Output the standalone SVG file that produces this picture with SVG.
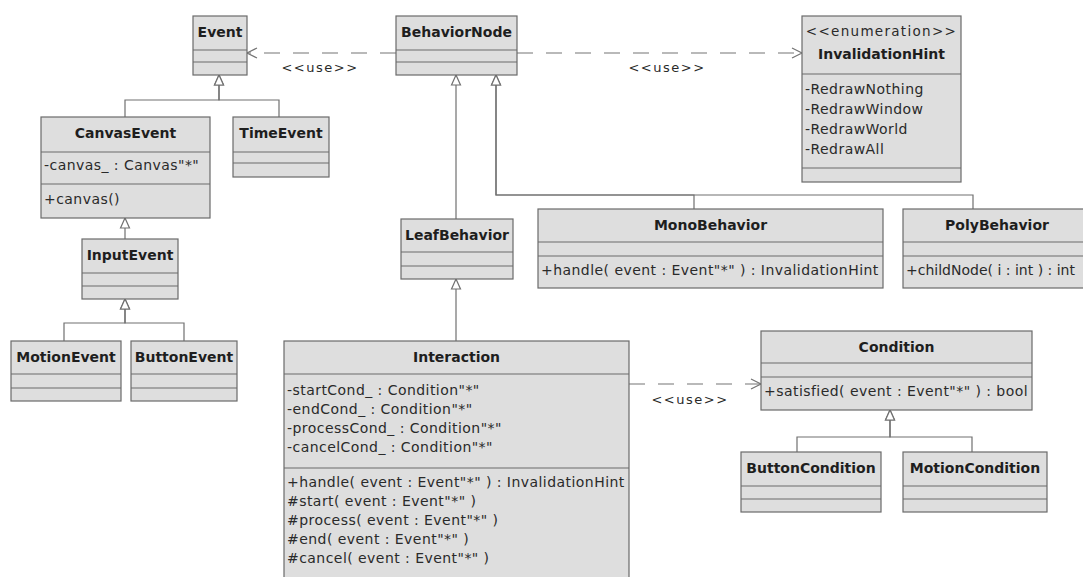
<svg xmlns="http://www.w3.org/2000/svg" width="1083" height="577" viewBox="0 0 1083 577">
  <defs>
    <style>
      .box { fill: #dedede; stroke: #6a6a6a; stroke-width: 1.2; }
      .sep { stroke: #6a6a6a; stroke-width: 1.2; }
      .name { font-family: "DejaVu Sans", "Liberation Sans", sans-serif; font-weight: bold; font-size: 14px; fill: #1e1e1e; text-anchor: middle; }
      .member { font-family: "DejaVu Sans", "Liberation Sans", sans-serif; font-size: 14px; letter-spacing: 0.45px; fill: #2a2a2a; }
      .tight { letter-spacing: 0px; }
      .stereo { font-family: "DejaVu Sans", "Liberation Sans", sans-serif; font-size: 13.5px; letter-spacing: 1.3px; fill: #2a2a2a; text-anchor: middle; }
      .gen { fill: none; stroke: #707070; stroke-width: 1.2; marker-end: url(#hollow); }
      .dep { fill: none; stroke: #747474; stroke-width: 1.2; stroke-dasharray: 16 13; marker-end: url(#open); }
      .label { font-family: "DejaVu Sans", "Liberation Sans", sans-serif; font-size: 13px; letter-spacing: 1.5px; fill: #2a2a2a; text-anchor: middle; }
    </style>
    <!-- hollow triangle for generalization -->
    <marker id="hollow" markerUnits="userSpaceOnUse" markerWidth="12" markerHeight="10" refX="10" refY="4.5" orient="auto" overflow="visible">
      <path d="M0,0 L10,4.5 L0,9 z" fill="#ffffff" stroke="#707070" stroke-width="1.2"/>
    </marker>
    <!-- open arrowhead for dependencies -->
    <marker id="open" markerUnits="userSpaceOnUse" markerWidth="12" markerHeight="12" refX="10" refY="5" orient="auto" overflow="visible">
      <path d="M0,0 L10,5 L0,10" fill="none" stroke="#747474" stroke-width="1.2" stroke-dasharray="none"/>
    </marker>
  </defs>

  <rect width="1083" height="577" fill="#ffffff"/>

  <!-- connectors -->
  <g id="connectors">
    <!-- dependencies -->
    <path class="dep" d="M396,53 L247,53"/>
    <text class="label" x="320" y="72">&lt;&lt;use&gt;&gt;</text>
    <path class="dep" d="M517,53 L802,53"/>
    <text class="label" x="667" y="72">&lt;&lt;use&gt;&gt;</text>
    <path class="dep" d="M629,384 L761,384"/>
    <text class="label" x="690" y="404">&lt;&lt;use&gt;&gt;</text>

    <!-- event hierarchy -->
    <path class="gen" d="M125,117 L125,100 L219,100 L219,75"/>
    <path class="gen" d="M279,117 L279,100 L219,100 L219,75"/>
    <path class="gen" d="M125,239 L125,218"/>
    <path class="gen" d="M64,341 L64,323 L125,323 L125,299"/>
    <path class="gen" d="M184,341 L184,323 L125,323 L125,299"/>

    <!-- behavior hierarchy -->
    <path class="gen" d="M456,219 L456,75"/>
    <path class="gen" d="M694,209 L694,195 L496,195 L496,75"/>
    <path class="gen" d="M973,209 L973,195 L496,195 L496,75"/>
    <path class="gen" d="M456,341 L456,279"/>

    <!-- condition hierarchy -->
    <path class="gen" d="M797,452 L797,437 L890,437 L890,410"/>
    <path class="gen" d="M972,452 L972,437 L890,437 L890,410"/>
  </g>

  <!-- classes -->
  <g id="Event">
    <rect class="box" x="193" y="16" width="54" height="59"/>
    <line class="sep" x1="193" y1="50" x2="247" y2="50"/>
    <line class="sep" x1="193" y1="62" x2="247" y2="62"/>
    <text class="name" x="220" y="37">Event</text>
  </g>

  <g id="BehaviorNode">
    <rect class="box" x="396" y="16" width="121" height="59"/>
    <line class="sep" x1="396" y1="50" x2="517" y2="50"/>
    <line class="sep" x1="396" y1="62" x2="517" y2="62"/>
    <text class="name" x="456.5" y="37">BehaviorNode</text>
  </g>

  <g id="InvalidationHint">
    <rect class="box" x="802" y="16" width="159" height="166"/>
    <line class="sep" x1="802" y1="74" x2="961" y2="74"/>
    <line class="sep" x1="802" y1="168" x2="961" y2="168"/>
    <text class="stereo" x="881.5" y="36">&lt;&lt;enumeration&gt;&gt;</text>
    <text class="name" x="881.5" y="59">InvalidationHint</text>
    <text class="member" x="805" y="94">-RedrawNothing</text>
    <text class="member" x="805" y="114">-RedrawWindow</text>
    <text class="member" x="805" y="134">-RedrawWorld</text>
    <text class="member" x="805" y="154">-RedrawAll</text>
  </g>

  <g id="CanvasEvent">
    <rect class="box" x="41" y="117" width="169" height="101"/>
    <line class="sep" x1="41" y1="152" x2="210" y2="152"/>
    <line class="sep" x1="41" y1="184" x2="210" y2="184"/>
    <text class="name" x="125.5" y="138">CanvasEvent</text>
    <text class="member" x="44" y="170">-canvas_ : Canvas"*"</text>
    <text class="member" x="44" y="204">+canvas()</text>
  </g>

  <g id="TimeEvent">
    <rect class="box" x="233" y="117" width="96" height="60"/>
    <line class="sep" x1="233" y1="152" x2="329" y2="152"/>
    <line class="sep" x1="233" y1="163" x2="329" y2="163"/>
    <text class="name" x="281" y="138">TimeEvent</text>
  </g>

  <g id="InputEvent">
    <rect class="box" x="82" y="239" width="96" height="60"/>
    <line class="sep" x1="82" y1="273" x2="178" y2="273"/>
    <line class="sep" x1="82" y1="286" x2="178" y2="286"/>
    <text class="name" x="130" y="260">InputEvent</text>
  </g>

  <g id="MotionEvent">
    <rect class="box" x="11" y="341" width="110" height="60"/>
    <line class="sep" x1="11" y1="374" x2="121" y2="374"/>
    <line class="sep" x1="11" y1="388" x2="121" y2="388"/>
    <text class="name" x="66" y="362">MotionEvent</text>
  </g>

  <g id="ButtonEvent">
    <rect class="box" x="131" y="341" width="106" height="60"/>
    <line class="sep" x1="131" y1="374" x2="237" y2="374"/>
    <line class="sep" x1="131" y1="388" x2="237" y2="388"/>
    <text class="name" x="184" y="362">ButtonEvent</text>
  </g>

  <g id="LeafBehavior">
    <rect class="box" x="401" y="219" width="112" height="60"/>
    <line class="sep" x1="401" y1="252" x2="513" y2="252"/>
    <line class="sep" x1="401" y1="266" x2="513" y2="266"/>
    <text class="name" x="457" y="240">LeafBehavior</text>
  </g>

  <g id="MonoBehavior">
    <rect class="box" x="538" y="209" width="345" height="79"/>
    <line class="sep" x1="538" y1="242" x2="883" y2="242"/>
    <line class="sep" x1="538" y1="256" x2="883" y2="256"/>
    <text class="name" x="710.5" y="230">MonoBehavior</text>
    <text class="member" x="541" y="275">+handle( event : Event"*" ) : InvalidationHint</text>
  </g>

  <g id="PolyBehavior">
    <rect class="box" x="903" y="209" width="190" height="79"/>
    <line class="sep" x1="903" y1="242" x2="1093" y2="242"/>
    <line class="sep" x1="903" y1="256" x2="1093" y2="256"/>
    <text class="name" x="997" y="230">PolyBehavior</text>
    <text class="member tight" x="906" y="275">+childNode( i : int ) : int</text>
  </g>

  <g id="Interaction">
    <rect class="box" x="284" y="341" width="345" height="250"/>
    <line class="sep" x1="284" y1="374" x2="629" y2="374"/>
    <line class="sep" x1="284" y1="468" x2="629" y2="468"/>
    <text class="name" x="456.5" y="362">Interaction</text>
    <text class="member" x="287" y="395">-startCond_ : Condition"*"</text>
    <text class="member" x="287" y="414">-endCond_ : Condition"*"</text>
    <text class="member" x="287" y="433">-processCond_ : Condition"*"</text>
    <text class="member" x="287" y="452">-cancelCond_ : Condition"*"</text>
    <text class="member" x="287" y="487">+handle( event : Event"*" ) : InvalidationHint</text>
    <text class="member" x="287" y="506">#start( event : Event"*" )</text>
    <text class="member" x="287" y="525">#process( event : Event"*" )</text>
    <text class="member" x="287" y="544">#end( event : Event"*" )</text>
    <text class="member" x="287" y="563">#cancel( event : Event"*" )</text>
  </g>

  <g id="Condition">
    <rect class="box" x="761" y="331" width="271" height="79"/>
    <line class="sep" x1="761" y1="363" x2="1032" y2="363"/>
    <line class="sep" x1="761" y1="377" x2="1032" y2="377"/>
    <text class="name" x="896.5" y="352">Condition</text>
    <text class="member" x="764" y="396">+satisfied( event : Event"*" ) : bool</text>
  </g>

  <g id="ButtonCondition">
    <rect class="box" x="741" y="452" width="140" height="60"/>
    <line class="sep" x1="741" y1="486" x2="881" y2="486"/>
    <line class="sep" x1="741" y1="499" x2="881" y2="499"/>
    <text class="name" x="811" y="473">ButtonCondition</text>
  </g>

  <g id="MotionCondition">
    <rect class="box" x="903" y="452" width="144" height="60"/>
    <line class="sep" x1="903" y1="486" x2="1047" y2="486"/>
    <line class="sep" x1="903" y1="499" x2="1047" y2="499"/>
    <text class="name" x="975" y="473">MotionCondition</text>
  </g>
</svg>
